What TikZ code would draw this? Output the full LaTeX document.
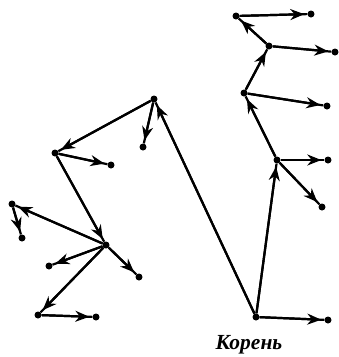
\documentclass[tikz,border=0pt]{standalone}
\usepackage{fontspec}
\setmainfont{Liberation Serif}
\usetikzlibrary{arrows.meta}
\tikzset{
  dot/.style={circle, fill=black, inner sep=0pt, minimum size=7pt},
  link/.style={line width=2.2pt, -{Stealth[length=14pt,width=11pt,inset=4.5pt]},
               shorten >=3pt, postaction={draw, -, shorten >=0pt}},
  lbl/.style={font=\fontsize{21.5}{26}\selectfont\bfseries\itshape, inner sep=0pt},
}

\begin{document}
\begin{tikzpicture}[x=1pt, y=-1pt]
\useasboundingbox (0,0) rectangle (339,357);

%% ── branching points ──────────────────────────────────────────────────────
\node[dot] (root) at (256,317) {};
\node[dot] (a) at (277,160) {};
\node[dot] (c) at (244,93) {};
\node[dot] (d) at (269,46) {};
\node[dot] (e) at (236,16) {};
\node[dot] (b) at (154,99) {};
\node[dot] (f) at (55,153) {};
\node[dot] (g) at (106,245) {};
\node[dot] (h) at (12,204) {};
\node[dot] (i) at (38,315) {};

%% ── leaves ────────────────────────────────────────────────────────────────
\node[dot] (rootR) at (328,320) {};
\node[dot] (aR) at (328,160) {};
\node[dot] (aD) at (322,207) {};
\node[dot] (cR) at (327,106) {};
\node[dot] (dR) at (335,52) {};
\node[dot] (eR) at (311,14) {};
\node[dot] (bD) at (143,147) {};
\node[dot] (fR) at (111,165) {};
\node[dot] (hD) at (22,238) {};
\node[dot] (gL) at (49,266) {};
\node[dot] (gD) at (139,277) {};
\node[dot] (iR) at (96,317) {};

%% ── right branch ──────────────────────────────────────────────────────────
\draw[link] (root) -- (rootR);
\draw[link] (root) -- (a);
\draw[link] (a) -- (aR);
\draw[link] (a) -- (aD);
\draw[link] (a) -- (c);
\draw[link] (c) -- (cR);
\draw[link] (c) -- (d);
\draw[link] (d) -- (dR);
\draw[link] (d) -- (e);
\draw[link] (e) -- (eR);

%% ── left branch ───────────────────────────────────────────────────────────
\draw[link] (root) -- (b);
\draw[link] (b) -- (bD);
\draw[link] (b) -- (f);
\draw[link] (f) -- (fR);
\draw[link] (f) -- (g);
\draw[link] (g) -- (h);
\draw[link] (h) -- (hD);
\draw[link] (g) -- (gL);
\draw[link] (g) -- (gD);
\draw[link] (g) -- (i);
\draw[link] (i) -- (iR);

\node[lbl] (rootlbl) at (249,345) {Корень};

\end{tikzpicture}
\end{document}
